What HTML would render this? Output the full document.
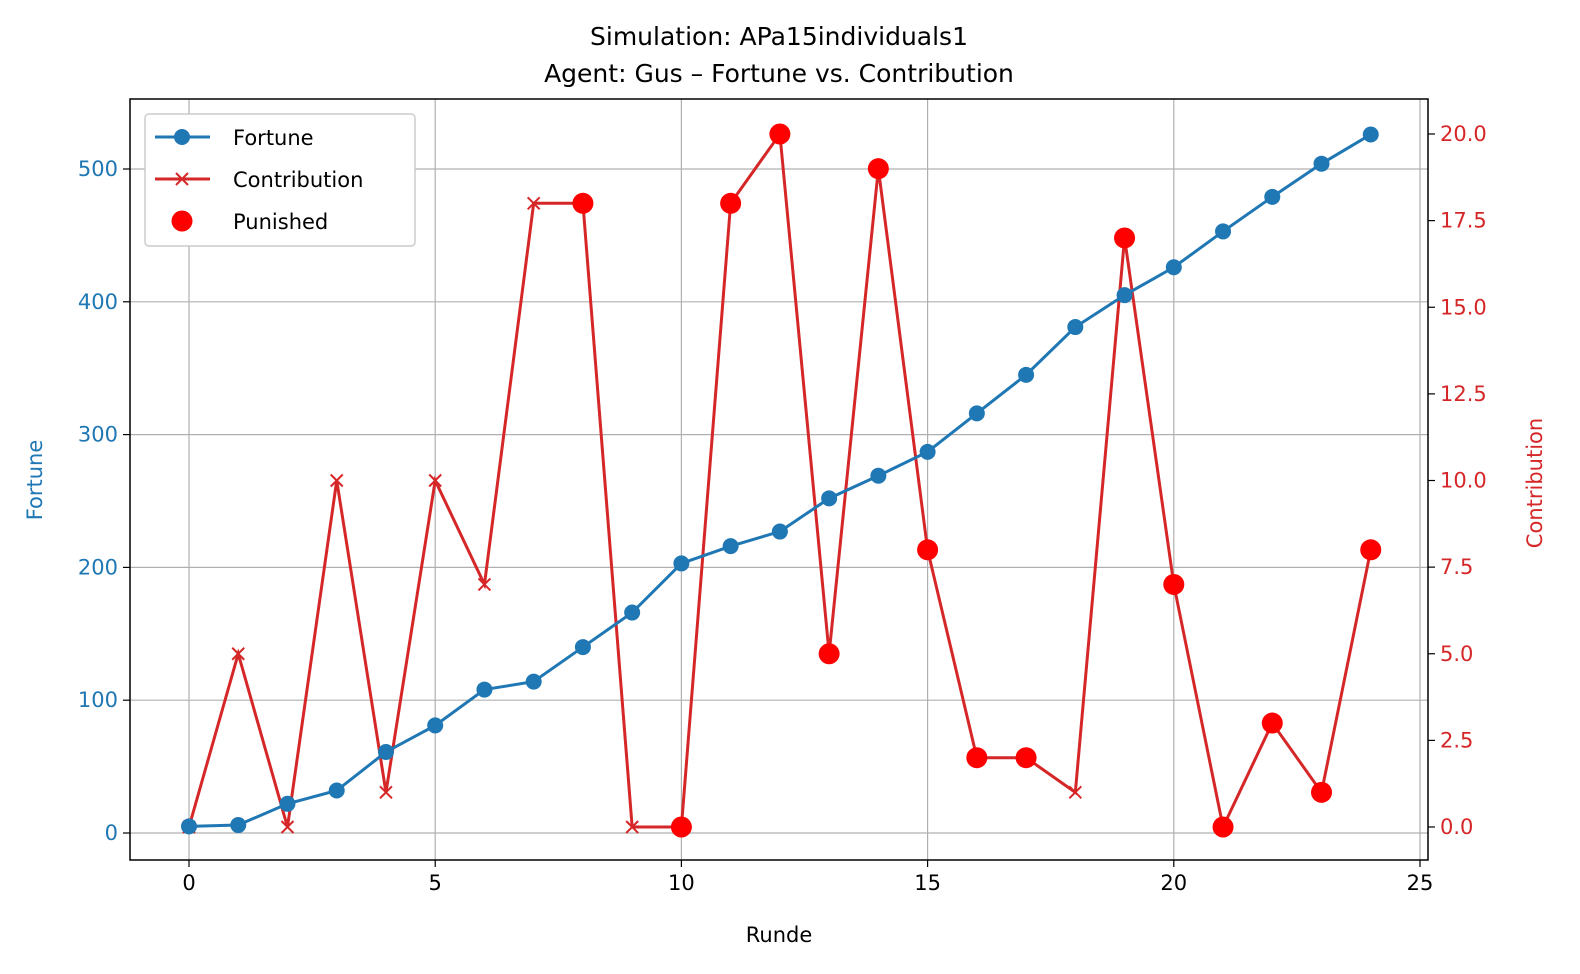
<!DOCTYPE html>
<html><head><meta charset="utf-8"><style>
html,body{margin:0;padding:0;background:#fff;overflow:hidden;width:1580px;height:974px;font-family:"Liberation Sans","DejaVu Sans",sans-serif;}
svg{display:block;}
</style></head><body>
<svg id="chart" width="1580" height="974" xmlns="http://www.w3.org/2000/svg" font-family="DejaVu Sans, Liberation Sans, sans-serif"></svg>
<script>
const rounds=[0,1,2,3,4,5,6,7,8,9,10,11,12,13,14,15,16,17,18,19,20,21,22,23,24];
const fortune=[5,6,22,32,61,81,108,114,140,166,203,216,227,252,269,287,316,345,381,405,426,453,479,504,526];
const contribution=[0,5,0,10,1,10,7,18,18,0,0,18,20,5,19,8,2,2,1,17,7,0,3,1,8];
const punishedRounds=[8,10,11,12,13,14,15,16,17,19,20,21,22,23,24];
const xTicks=[0,5,10,15,20,25];
const yLeftTicks=[0,100,200,300,400,500];
const yRightTicks=[0,2.5,5,7.5,10,12.5,15,17.5,20];
const L=130,R=1428,T=99,B=860;
const X=v=>189+(v)*(1420-189)/25;
const YL=v=>833-v*(833-169)/500;
const YR=v=>827-v*(827-134)/20;
const svg=document.getElementById('chart');
const NS='http://www.w3.org/2000/svg';
function el(tag,attrs,parent){const e=document.createElementNS(NS,tag);for(const k in attrs)e.setAttribute(k,attrs[k]);(parent||svg).appendChild(e);return e;}
function txt(s,attrs,name){const e=el('text',attrs);e.textContent=s;


return e;}
xTicks.forEach(t=>{const g=el('line',{x1:X(t),x2:X(t),y1:T,y2:B,stroke:'#b0b0b0','stroke-width':1.2});

});
yLeftTicks.forEach(t=>{const g=el('line',{x1:L,x2:R,y1:YL(t),y2:YL(t),stroke:'#b0b0b0','stroke-width':1.2});

});
xTicks.forEach(t=>{el('line',{x1:X(t),x2:X(t),y1:B,y2:B+7,stroke:'#000','stroke-width':1.2});
txt(t,{x:X(t),y:B+30,'text-anchor':'middle','font-size':21},'x-tick-label');});
yLeftTicks.forEach(t=>{el('line',{x1:L-7,x2:L,y1:YL(t),y2:YL(t),stroke:'#000','stroke-width':1.2});
txt(t,{x:L-12,y:YL(t)+7,'text-anchor':'end','font-size':21,fill:'#1f77b4'},'y-left-tick-label');});
yRightTicks.forEach(t=>{el('line',{x1:R,x2:R+7,y1:YR(t),y2:YR(t),stroke:'#000','stroke-width':1.2});
txt(t.toFixed(1),{x:R+12,y:YR(t)+7,'font-size':21,fill:'#d62728'},'y-right-tick-label');});
const cl=el('polyline',{points:rounds.map((r,i)=>X(r)+','+YR(contribution[i])).join(' '),fill:'none',stroke:'#d62728','stroke-width':3});


rounds.forEach((r,i)=>{const x=X(r),y=YR(contribution[i]);
const m=el('path',{d:`M${x-6},${y-6}L${x+6},${y+6}M${x-6},${y+6}L${x+6},${y-6}`,stroke:'#d62728','stroke-width':2});

});
const fl=el('polyline',{points:rounds.map((r,i)=>X(r)+','+YL(fortune[i])).join(' '),fill:'none',stroke:'#1f77b4','stroke-width':3});


rounds.forEach((r,i)=>{const c=el('circle',{cx:X(r),cy:YL(fortune[i]),r:8,fill:'#1f77b4'});

});
punishedRounds.forEach(r=>{const c=el('circle',{cx:X(r),cy:YR(contribution[r]),r:10.5,fill:'#ff0000'});

});
const fr=el('rect',{x:L,y:T,width:R-L,height:B-T,fill:'none',stroke:'#000','stroke-width':1.5});


txt('Simulation: APa15individuals1',{x:779,y:45,'text-anchor':'middle','font-size':25},'chart-title');
txt('Agent: Gus \u2013 Fortune vs. Contribution',{x:779,y:82,'text-anchor':'middle','font-size':25},'chart-subtitle');
txt('Runde',{x:779,y:942,'text-anchor':'middle','font-size':21},'x-axis-title');
txt('Fortune',{x:0,y:0,'text-anchor':'middle','font-size':21,fill:'#1f77b4',transform:'translate(42,480) rotate(-90)'},'y-left-axis-title');
txt('Contribution',{x:0,y:0,'text-anchor':'middle','font-size':21,fill:'#d62728',transform:'translate(1542,483) rotate(-90)'},'y-right-axis-title');
const lg=el('rect',{x:145,y:114,width:270,height:132,fill:'#fff',stroke:'#ccc','stroke-width':1.5,rx:4});


el('line',{x1:155,x2:210,y1:137,y2:137,stroke:'#1f77b4','stroke-width':3});
el('circle',{cx:182,cy:137,r:8,fill:'#1f77b4'});
txt('Fortune',{x:233,y:145,'font-size':21},'legend-fortune');
el('line',{x1:155,x2:210,y1:179,y2:179,stroke:'#d62728','stroke-width':3});
el('path',{d:'M176,173L188,185M176,185L188,173',stroke:'#d62728','stroke-width':2});
txt('Contribution',{x:233,y:187,'font-size':21},'legend-contribution');
el('circle',{cx:182,cy:221,r:10.5,fill:'#ff0000'});
txt('Punished',{x:233,y:229,'font-size':21},'legend-punished');
</script>
</body></html>
